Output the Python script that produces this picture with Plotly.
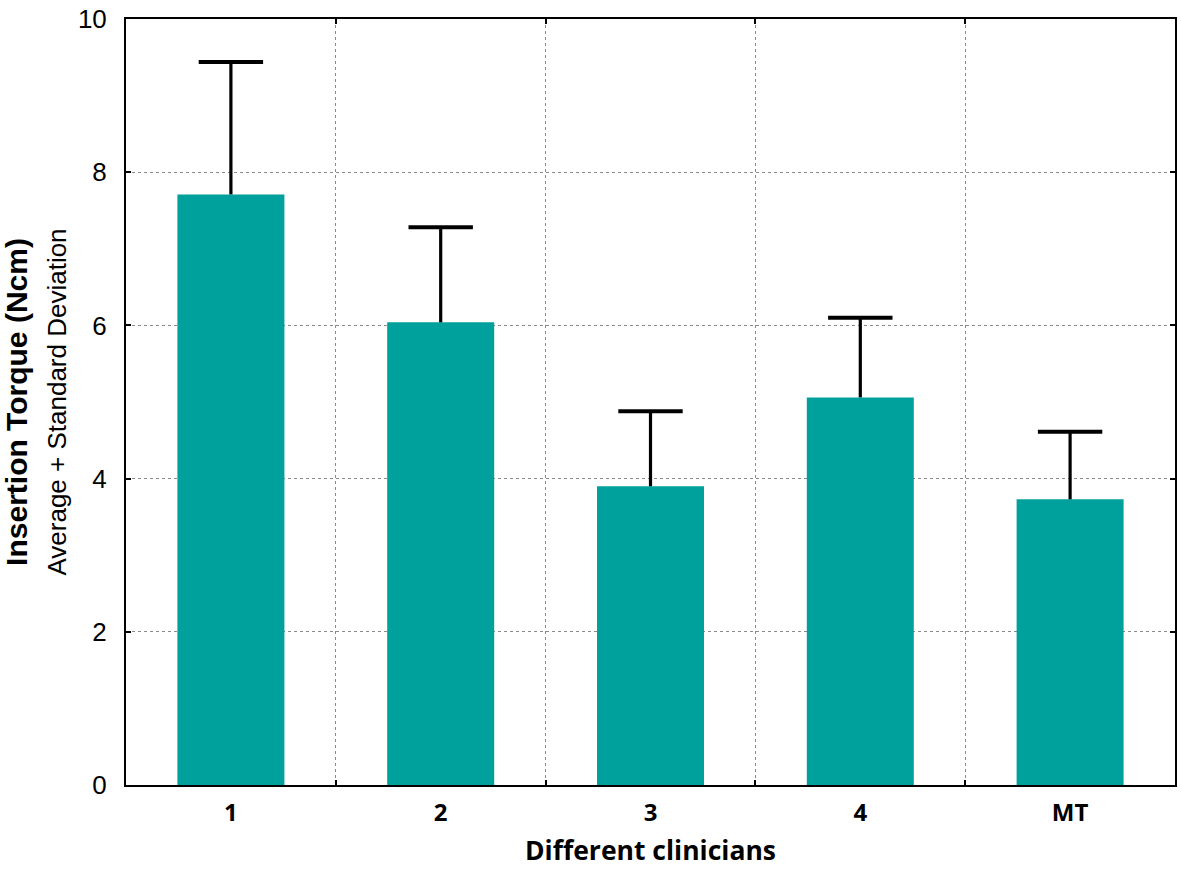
import plotly.graph_objects as go

categories = ["1", "2", "3", "4", "MT"]
means = [7.71, 6.04, 3.90, 5.06, 3.73]
sd = [1.73, 1.24, 0.98, 1.04, 0.88]
y_ticks = [0, 2, 4, 6, 8, 10]

xpos = list(range(len(categories)))
bounds = [i + 0.5 for i in xpos[:-1]]
upper = [m + s for m, s in zip(means, sd)]

fig = go.Figure()
fig.add_trace(go.Bar(
    x=xpos, y=means, width=0.51,
    marker=dict(color="#00A09D", line=dict(width=0)),
    error_y=dict(type="data", symmetric=False, array=sd, arrayminus=[0]*len(sd),
                 color="black", thickness=3.2, width=0),
))
# caps of the error bars (top only)
fig.add_trace(go.Scatter(
    x=xpos, y=upper, mode="markers",
    marker=dict(symbol="line-ew", size=46, color="black",
                line=dict(color="black", width=4)),
    hoverinfo="skip",
))

fig.update_layout(
    width=1181, height=873,
    margin=dict(l=123, r=4, t=14, b=88),
    plot_bgcolor="white", paper_bgcolor="white",
    showlegend=False,
    font=dict(family="Liberation Sans, Arial, sans-serif", color="black"),
)
fig.update_xaxes(
    range=[-0.5, 4.5], tickvals=xpos, ticktext=[f"<b>{c}</b>" for c in categories],
    tickfont=dict(size=24, family="Open Sans, sans-serif"), ticks="", showgrid=False,
    ticklabelstandoff=5,
    showline=True, linecolor="black", linewidth=2, mirror="ticks",
    minor=dict(tickvals=bounds, showgrid=True, griddash="dot", gridcolor="#8a8a8a",
               gridwidth=1, ticks="inside", ticklen=5, tickcolor="black", tickwidth=2),
    title=dict(text="<b>Different clinicians</b>", font=dict(size=26.5, family="Open Sans, sans-serif"),
               standoff=15),
)
fig.update_yaxes(
    range=[0, 10], tickvals=y_ticks, tickfont=dict(size=26),
    ticks="inside", ticklen=5, tickcolor="black", tickwidth=2,
    ticklabelstandoff=12, ticklabeloverflow="allow",
    showgrid=True, griddash="dot", gridcolor="#8a8a8a", gridwidth=1,
    showline=True, linecolor="black", linewidth=2, mirror="ticks",
    zeroline=False,
    title=dict(text="<b>Insertion Torque (Ncm)</b><br><span style='font-size:26px'>Average + Standard Deviation</span>",
               font=dict(size=30), standoff=14),
)
fig.write_html("out.html", config={"displayModeBar": False},
               post_script="document.body.style.margin='0px';")
